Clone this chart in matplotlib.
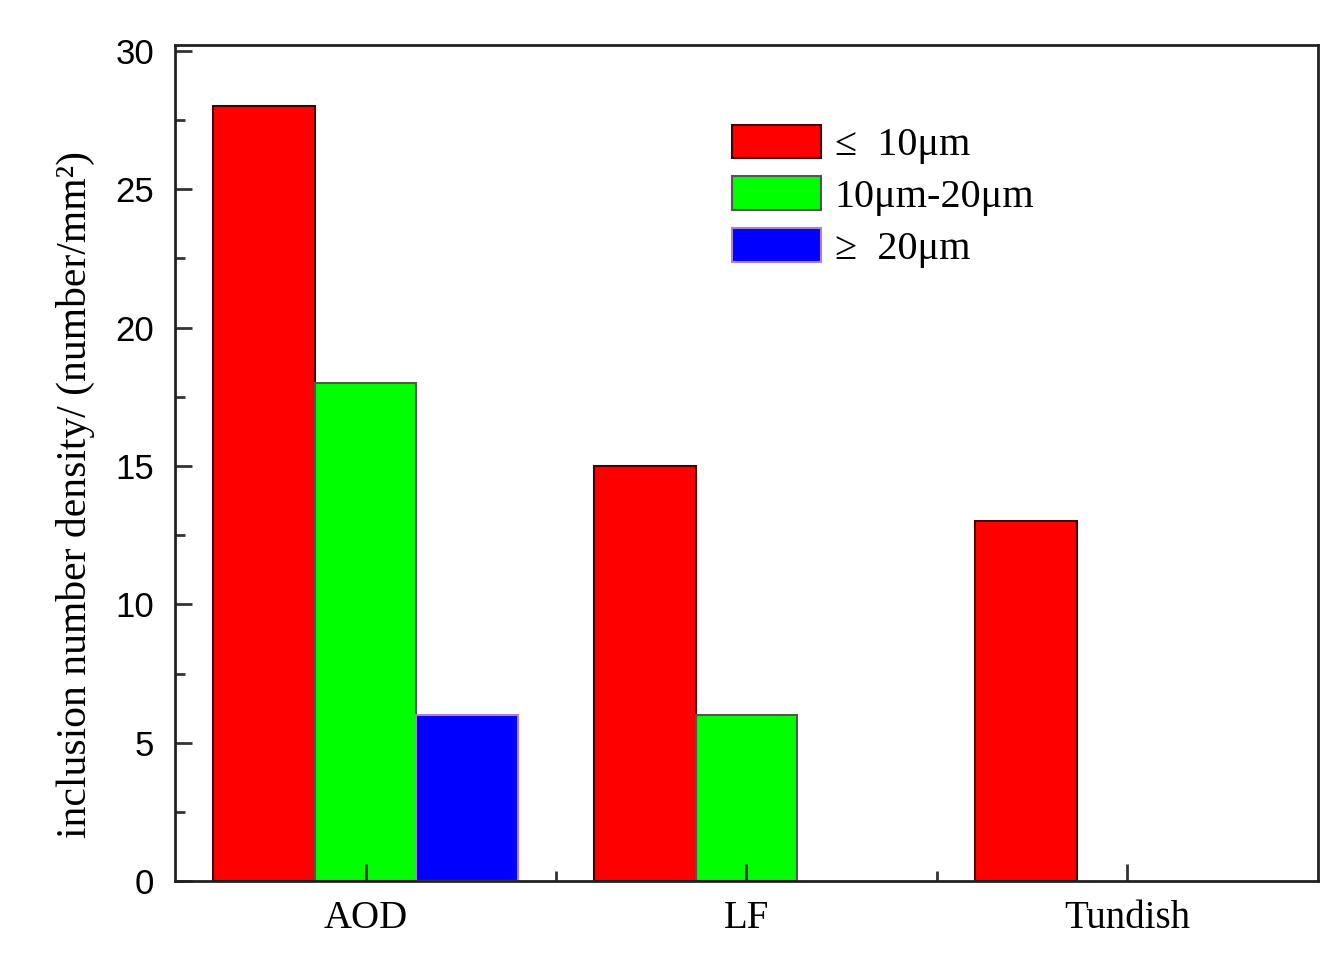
import numpy as np
import matplotlib.pyplot as plt
from matplotlib.ticker import MultipleLocator, FixedLocator

# Data
stages = ['AOD', 'LF', 'Tundish']
small = [28, 15, 13]       # <= 10um
medium = [18, 6, 0]        # 10um-20um
large = [6, 0, 0]          # >= 20um
labels = ['\u2264  10\u03bcm', '10\u03bcm-20\u03bcm', '\u2265  20\u03bcm']

serif = ['Liberation Serif', 'DejaVu Serif']
sans = ['Liberation Sans', 'DejaVu Sans']

fig = plt.figure(figsize=(13.36, 9.65), dpi=100)
ax = fig.add_axes([0.131, 0.087, 0.8555, 0.866])

x = np.arange(1, len(stages) + 1)
w = 0.267

def only_nonzero(vals, offset):
    xs = [xi + offset for xi, v in zip(x, vals) if v > 0]
    vs = [v for v in vals if v > 0]
    return xs, vs

xs, vs = only_nonzero(small, -w)
ax.bar(xs, vs, w, color='#ff0000', edgecolor='#4a0000', linewidth=1.5, label=labels[0])
xs, vs = only_nonzero(medium, 0)
ax.bar(xs, vs, w, color='#00ff00', edgecolor='#555555', linewidth=1.5, label=labels[1])
xs, vs = only_nonzero(large, w)
ax.bar(xs, vs, w, color='#0000ff', edgecolor='#b080d0', linewidth=1.5, label=labels[2])

ax.set_xlim(0.5, 3.5)
ax.set_ylim(0, 30.2)

ax.set_xticks(x)
ax.set_xticklabels(stages, fontfamily=serif, fontsize=28)
ax.xaxis.set_minor_locator(FixedLocator([1.5, 2.5]))
ax.yaxis.set_major_locator(MultipleLocator(5))
ax.yaxis.set_minor_locator(MultipleLocator(2.5))
for lab in ax.get_yticklabels():
    lab.set_fontfamily(sans)
    lab.set_fontsize(25)

ax.tick_params(which='both', direction='in', top=False, right=False, width=2, color='#333333')
ax.tick_params(which='major', length=12)
ax.tick_params(which='minor', length=7)
ax.tick_params(axis='x', pad=14)
ax.tick_params(axis='y', pad=15)

for s in ax.spines.values():
    s.set_linewidth(2)
    s.set_color('#222222')

ax.set_ylabel('inclusion number density/ (number/mm\u00b2)', fontfamily=serif, fontsize=30)
ax.yaxis.set_label_coords(-0.070, 0.462)

ax.legend(loc='upper left', bbox_to_anchor=(0.4875, 0.905), frameon=False,
          prop={'family': serif, 'size': 29}, handlelength=2.2, handleheight=0.9,
          labelspacing=0.3, handletextpad=0.35, borderpad=0, borderaxespad=0)

plt.savefig('out.png', dpi=100)
